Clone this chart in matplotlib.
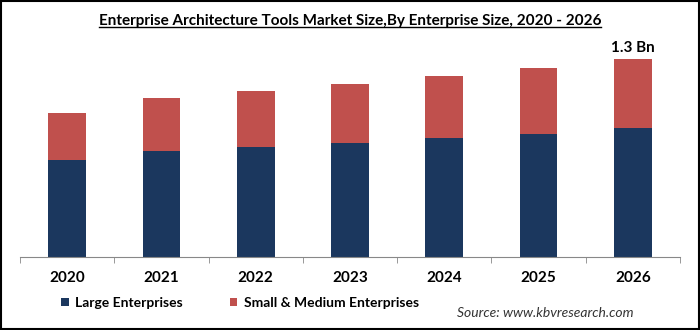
import matplotlib.pyplot as plt
from matplotlib.patches import Rectangle
from matplotlib.lines import Line2D

years = ['2020', '2021', '2022', '2023', '2024', '2025', '2026']
large = [637, 696, 722, 749, 781, 808, 847]   # USD million
small = [308, 348, 368, 387, 407, 433, 453]
total_label = '1.3 Bn'

navy = '#1b375e'
red = '#c0504d'

plt.rcParams['font.family'] = ['Lato', 'DejaVu Sans']

fig = plt.figure(figsize=(7, 3.3), dpi=100)
ax = fig.add_axes([0.0286, 0.221, 0.9428, 0.658])

x = list(range(len(years)))
ax.bar(x, large, width=0.40, color=navy, label='Large Enterprises')
ax.bar(x, small, width=0.40, bottom=large, color=red, label='Small & Medium Enterprises')

ax.text(x[-1], large[-1] + small[-1] + 25, total_label, ha='center', va='bottom',
        fontsize=11, fontweight='bold')

ax.set_xlim(-0.5, len(years) - 0.5)
ax.set_ylim(0, 1425)
ax.set_yticks([])
for s in ['top', 'right', 'left']:
    ax.spines[s].set_visible(False)
ax.spines['bottom'].set_color('#888888')

# year labels centred, small ticks between the categories
ax.set_xticks(x)
ax.set_xticklabels(years, fontsize=11, fontweight='bold')
ax.tick_params(axis='x', which='major', length=0, pad=10)
ax.set_xticks([i + 0.5 for i in x[:-1]] + [-0.5, len(years) - 0.5], minor=True)
ax.tick_params(axis='x', which='minor', length=4, color='#888888')

leg = fig.legend(loc='center left', bbox_to_anchor=(0.087, 0.082), ncol=2, frameon=False,
                 prop={'size': 10, 'weight': 'bold'}, handlelength=0.55, handleheight=0.55,
                 handletextpad=0.45, columnspacing=3.4, borderpad=0, borderaxespad=0)

fig.text(0.905, 0.052, 'Source: www.kbvresearch.com', ha='right', va='center',
         fontsize=10, style='italic', color='#333333')

title = fig.text(0.5, 0.935, 'Enterprise Architecture Tools Market Size,By Enterprise Size, 2020 - 2026',
                 ha='center', va='center', fontsize=11, fontweight='bold')

# underline the title
fig.canvas.draw()
bb = title.get_window_extent().transformed(fig.transFigure.inverted())
fig.add_artist(Line2D([bb.x0, bb.x1], [bb.y0 + 0.004, bb.y0 + 0.004], color='black',
                      linewidth=1, transform=fig.transFigure))

# outer frame
fig.add_artist(Rectangle((0.001, 0.002), 0.997, 0.995, transform=fig.transFigure,
                         fill=False, edgecolor='black', linewidth=1.5))

fig.savefig('out.png', dpi=100)
